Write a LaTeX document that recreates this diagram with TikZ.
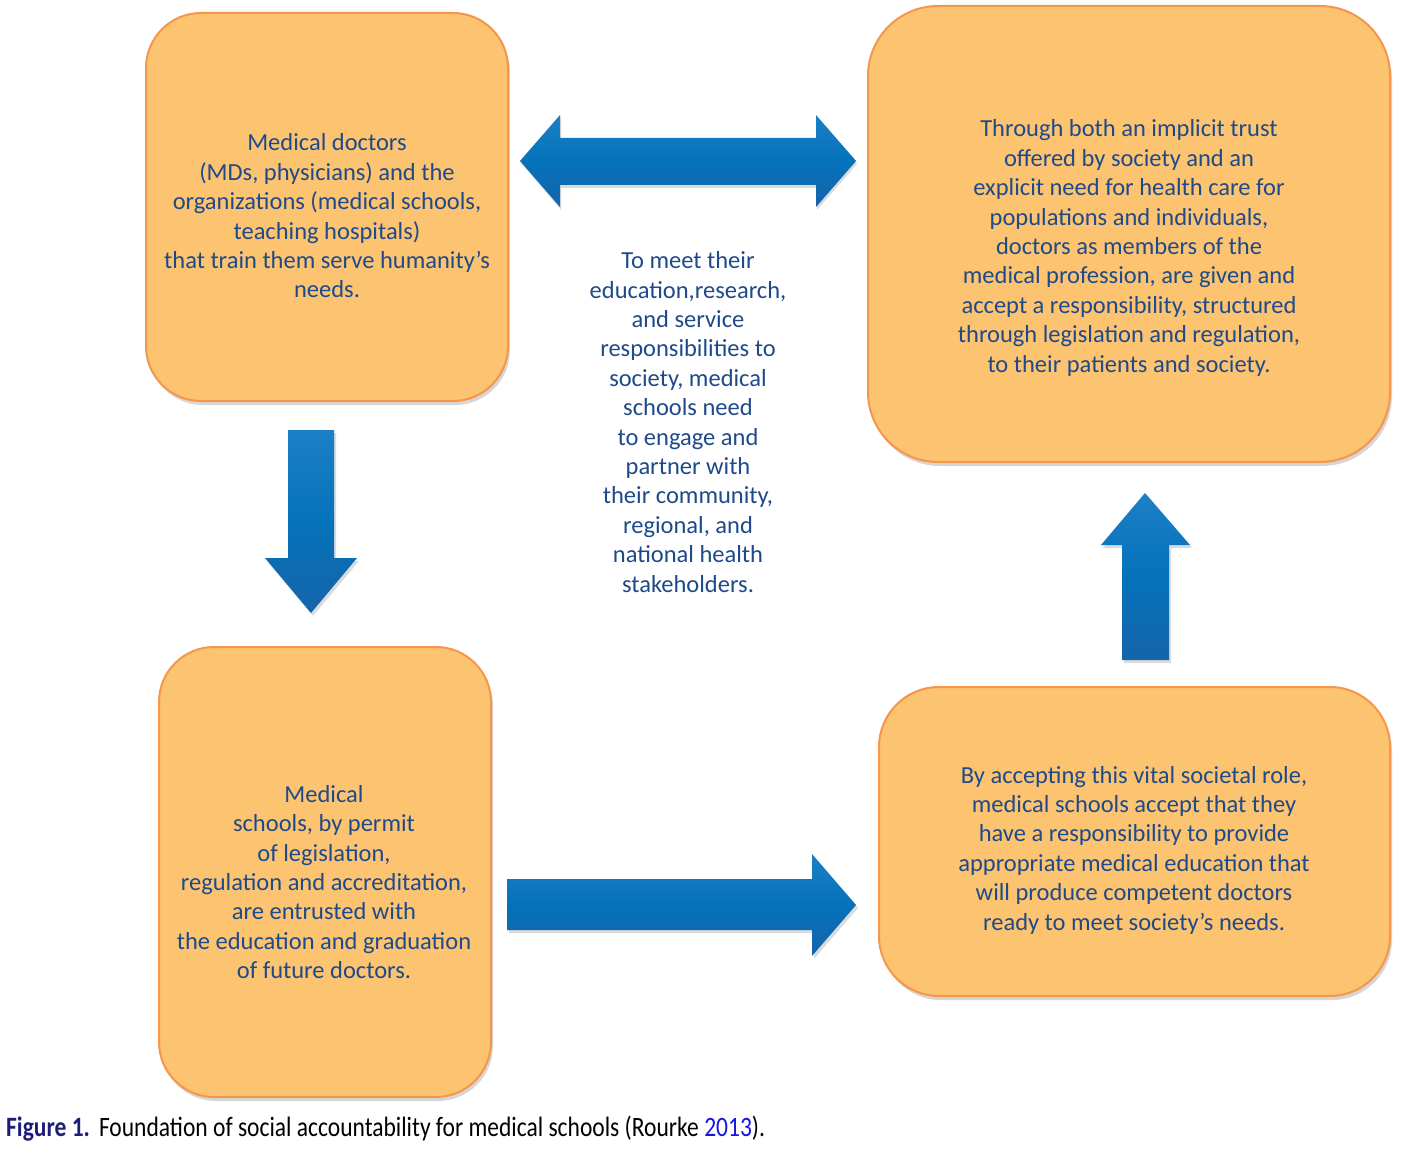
\documentclass[tikz,border=0pt]{standalone}
\usepackage{fontspec}
\setmainfont{Carlito}
\newfontfamily\capfont[FakeStretch=0.84]{Carlito}
\definecolor{boxfill}{RGB}{252,195,112}
\definecolor{boxline}{RGB}{245,150,75}
\definecolor{txtblue}{RGB}{31,74,138}
\definecolor{arrtop}{RGB}{28,128,198}
\definecolor{arrmid}{RGB}{4,114,186}
\definecolor{arrbot}{RGB}{22,100,170}
\definecolor{capblue}{RGB}{30,30,120}
\definecolor{citeblue}{RGB}{20,20,230}
\tikzset{
  card/.style={fill=boxfill,draw=boxline,line width=2pt},
  cardshadow/.style={fill=black!16},
  blockarrow/.style={top color=arrtop,bottom color=arrbot,middle color=arrmid,draw=none},
  arrowshadow/.style={fill=black!14},
  bodytext/.style={text=txtblue,align=center,font=\fontsize{24.5}{29.4}\selectfont,inner sep=0pt},
}
\begin{document}
\begin{tikzpicture}[x=1pt,y=-1pt]
\useasboundingbox[fill=white] (0,0) rectangle (1402,1150);
% box shadows
\fill[cardshadow,rounded corners=55] (148,17) rectangle (510,405);
\fill[cardshadow,rounded corners=70] (870,10) rectangle (1392,466);
\fill[cardshadow,rounded corners=55] (161,651) rectangle (493,1101);
\fill[cardshadow,rounded corners=60] (881,691) rectangle (1392,1000);
% boxes
\draw[card,rounded corners=55] (146,13) rectangle (508,401);
\draw[card,rounded corners=70] (868,6) rectangle (1390,462);
\draw[card,rounded corners=55] (159,647) rectangle (491,1097);
\draw[card,rounded corners=60] (879,687) rectangle (1390,996);
% arrow shadows
\fill[arrowshadow] (522,164) -- (561,118) -- (561,141) -- (817,141) -- (817,118) -- (857,164) -- (817,210) -- (817,188) -- (561,188) -- (561,210) -- cycle;
\fill[arrowshadow] (290,433) -- (336,433) -- (336,561) -- (359,561) -- (313,616) -- (267,561) -- (290,561) -- cycle;
\fill[arrowshadow] (1147,496) -- (1192,548) -- (1171,548) -- (1171,663) -- (1124,663) -- (1124,548) -- (1103,548) -- cycle;
\fill[arrowshadow] (509,882) -- (814,882) -- (814,857) -- (858,908) -- (814,959) -- (814,933) -- (509,933) -- cycle;
% arrows
\path[blockarrow] (520,161) -- (560,115) -- (560,138) -- (816,138) -- (816,115) -- (856,161) -- (816,207) -- (816,185) -- (560,185) -- (560,207) -- cycle;
\path[blockarrow] (288,430) -- (334,430) -- (334,558) -- (357,558) -- (311,613) -- (265,558) -- (288,558) -- cycle;
\path[blockarrow] (1145,493) -- (1190,545) -- (1169,545) -- (1169,660) -- (1122,660) -- (1122,545) -- (1101,545) -- cycle;
\path[blockarrow] (507,879) -- (812,879) -- (812,854) -- (856,905) -- (812,956) -- (812,930) -- (507,930) -- cycle;
% texts
\node[bodytext] (t1) at (327,216) {Medical doctors\\(MDs, physicians) and the\\organizations (medical schools,\\teaching hospitals)\\that train them serve humanity’s\\needs.};
\node[bodytext] (t2) at (1129,248) {Through both an implicit trust\\offered by society and an\\explicit need for health care for\\populations and individuals,\\doctors as members of the\\medical profession, are given and\\accept a responsibility, structured\\through legislation and regulation,\\to their patients and society.};
\node[bodytext] (t3) at (324,882) {Medical\\schools, by permit\\of legislation,\\regulation and accreditation,\\are entrusted with\\the education and graduation\\of future doctors.};
\node[bodytext] (t4) at (1134,850) {By accepting this vital societal role,\\medical schools accept that they\\have a responsibility to provide\\appropriate medical education that\\will produce competent doctors\\ready to meet society’s needs.};
\node[bodytext] (tm) at (688,422) {To meet their\\education,research,\\and service\\responsibilities to\\society, medical\\schools need\\to engage and\\partner with\\their community,\\regional, and\\national health\\stakeholders.};
% caption
\node[anchor=west,inner sep=0pt,font=\capfont\fontsize{28}{30}\selectfont] (cap) at (6,1129) {\textcolor{capblue}{\textbf{Figure 1.}}\hspace{9pt}Foundation of social accountability for medical schools (Rourke \textcolor{citeblue}{2013}).};
\end{tikzpicture}
\end{document}
